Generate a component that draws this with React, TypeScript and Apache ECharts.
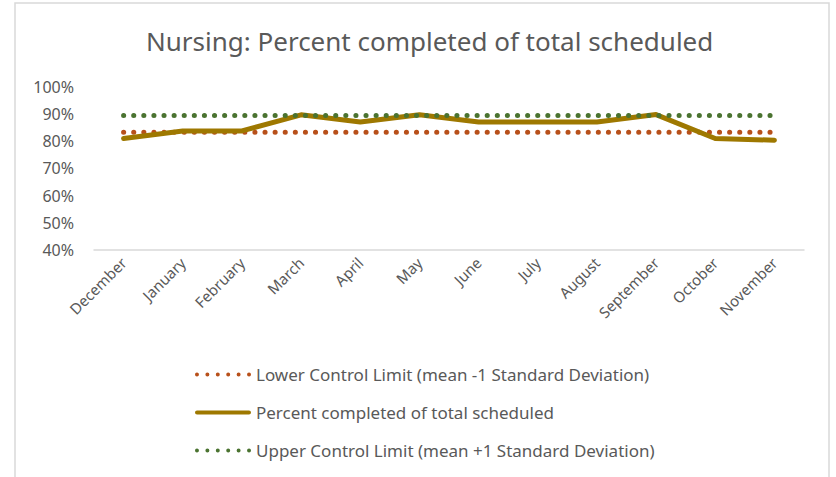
import React, { useEffect, useRef } from "react";
import * as echarts from "echarts";

const months = ["December", "January", "February", "March", "April", "May", "June", "July", "August", "September", "October", "November"];
const percentCompleted = [80.9, 83.7, 83.7, 89.6, 87.0, 89.6, 87.0, 87.0, 87.0, 89.7, 80.9, 80.3];
const lowerLimit = [83.2, 83.2, 83.2, 83.2, 83.2, 83.2, 83.2, 83.2, 83.2, 83.2, 83.2, 83.2];
const upperLimit = [89.4, 89.4, 89.4, 89.4, 89.4, 89.4, 89.4, 89.4, 89.4, 89.4, 89.4, 89.4];

const LOWER = "Lower Control Limit (mean -1 Standard Deviation)";
const PCT = "Percent completed of total scheduled";
const UPPER = "Upper Control Limit (mean +1 Standard Deviation)";

const FONT = "'Noto Sans', 'Open Sans', sans-serif";
const TXT = "#595959";

function dotsIcon(): string {
  let d = "";
  for (let i = 0; i < 6; i++) {
    const cx = 2.5 + i * 10.5;
    d += `M${cx - 2},3a2,2 0 1,0 4,0a2,2 0 1,0 -4,0`;
  }
  return "path://" + d;
}
const solidIcon = "path://M2.5,1h51a2,2 0 0,1 0,4h-51a2,2 0 0,1 0,-4z";

export default function App() {
  const ref = useRef<HTMLDivElement>(null);
  useEffect(() => {
    if (!ref.current) return;
    const chart = echarts.init(ref.current, null, { renderer: "svg" });
    const dotted = (color: string) => ({ color, width: 5, type: [0.1, 10] as any, cap: "round" as const });
    chart.setOption({
      animation: false,
      backgroundColor: "#fff",
      graphic: [
        { type: "rect", shape: { x: 15, y: 3, width: 814, height: 500 }, style: { fill: "none", stroke: "#d9d9d9", lineWidth: 1.5 }, silent: true },
      ],
      title: {
        text: "Nursing: Percent completed of total scheduled",
        left: 141,
        top: 23,
        textStyle: { fontFamily: FONT, fontSize: 26, fontWeight: "normal", color: TXT },
      },
      grid: { left: 94, right: 32, top: 86.5, bottom: 227, containLabel: false },
      xAxis: {
        type: "category",
        data: months,
        boundaryGap: true,
        axisLine: { lineStyle: { color: "#d9d9d9", width: 1.5 } },
        axisTick: { show: false },
        axisLabel: { rotate: 45, fontFamily: FONT, fontSize: 15, color: TXT, margin: 10, interval: 0 },
      },
      yAxis: {
        type: "value",
        min: 40,
        max: 100,
        interval: 10,
        axisLine: { show: false },
        axisTick: { show: false },
        splitLine: { show: false },
        axisLabel: { formatter: "{value}%", fontFamily: FONT, fontSize: 16, color: TXT, margin: 20 },
      },
      legend: {
        orient: "vertical",
        left: 190,
        top: 361,
        itemWidth: 56,
        itemHeight: 6,
        itemGap: 21,
        textStyle: { fontFamily: FONT, fontSize: 17, color: TXT },
        data: [
          { name: LOWER, icon: dotsIcon() },
          { name: PCT, icon: solidIcon },
          { name: UPPER, icon: dotsIcon() },
        ],
      },
      series: [
        {
          name: LOWER,
          type: "line",
          data: lowerLimit,
          symbol: "none",
          lineStyle: dotted("#b8501a"),
          itemStyle: { color: "#b8501a" },
          z: 2,
        },
        {
          name: PCT,
          type: "line",
          data: percentCompleted,
          symbol: "none",
          lineStyle: { color: "#9e7800", width: 5, cap: "round", join: "round" },
          itemStyle: { color: "#9e7800" },
          z: 3,
        },
        {
          name: UPPER,
          type: "line",
          data: upperLimit,
          symbol: "none",
          lineStyle: dotted("#4a7330"),
          itemStyle: { color: "#4a7330" },
          z: 4,
        },
      ],
    });
    return () => chart.dispose();
  }, []);
  return <div ref={ref} style={{ position: "fixed", left: 0, top: 0, width: 836, height: 477 }} />;
}
